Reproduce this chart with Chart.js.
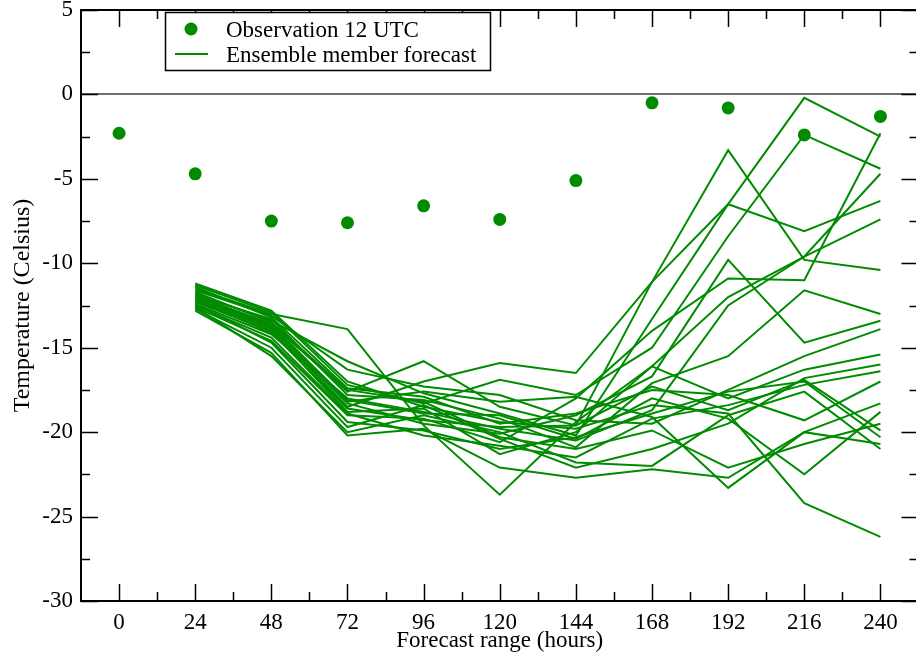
<!DOCTYPE html>
<html>

<head>
    <script src="https://cdn.jsdelivr.net/npm/chart.js@4.4.1/dist/chart.umd.min.js"></script>
    <style>
        body { margin: 0; overflow: hidden; background: #fff; }
    </style>
</head>

<body>
    <canvas id="ens" width="925" height="657"></canvas>

    <script>
        // forecast hours
        const hours = [0, 24, 48, 72, 96, 120, 144, 168, 192, 216, 240]
        const xTicks = [0, 24, 48, 72, 96, 120, 144, 168, 192, 216, 240]
        const yTicks = [-30, -25, -20, -15, -10, -5, 0, 5]

        // observed 12 UTC temperature
        const observed = [-2.3, -4.7, -7.5, -7.6, -6.6, -7.4, -5.1, -0.5, -0.8, -2.4, -1.3]

        // ensemble members, values at 24..240 h
        const members = [
            [-11.5, -13.0, -13.9, -19.6, -23.7, -19.4, -16.1, -12.0, -9.6, -7.4],
            [-11.8, -13.4, -15.8, -17.7, -18.9, -20.2, -13.3, -6.5, -0.2, -2.5],
            [-12.0, -13.6, -17.6, -15.8, -18.5, -19.6, -11.1, -3.3, -9.8, -10.4],
            [-12.2, -13.9, -18.5, -17.0, -15.9, -16.5, -11.1, -6.5, -8.1, -6.3],
            [-11.3, -12.9, -17.2, -18.3, -16.9, -17.8, -15.0, -8.4, -2.4, -4.4],
            [-12.4, -14.2, -18.0, -18.8, -19.8, -20.5, -18.7, -12.5, -9.6, -4.7],
            [-12.6, -14.6, -19.0, -19.2, -20.6, -18.0, -14.0, -10.9, -11.0, -2.3],
            [-11.9, -13.3, -17.8, -18.1, -19.2, -20.9, -17.1, -15.5, -11.6, -13.0],
            [-12.1, -13.8, -18.3, -19.5, -20.1, -19.0, -16.7, -9.8, -14.7, -13.4],
            [-11.6, -13.1, -16.3, -17.3, -17.8, -19.3, -19.5, -17.5, -15.5, -13.9],
            [-12.3, -14.0, -18.8, -18.6, -21.3, -20.0, -16.1, -18.0, -16.3, -15.4],
            [-12.7, -15.0, -19.7, -18.4, -20.4, -22.1, -21.0, -19.5, -16.8, -16.0],
            [-12.5, -14.4, -18.9, -20.2, -20.8, -21.5, -19.2, -18.4, -17.2, -16.4],
            [-11.4, -13.2, -17.4, -17.9, -19.5, -18.9, -17.5, -17.8, -19.3, -17.0],
            [-12.8, -15.3, -20.2, -19.8, -22.1, -22.7, -22.2, -22.7, -20.0, -18.3],
            [-12.0, -13.7, -18.1, -18.9, -19.0, -20.4, -18.0, -19.2, -22.5, -18.8],
            [-11.7, -13.5, -17.5, -18.2, -20.3, -21.0, -19.9, -22.1, -20.7, -19.5],
            [-12.2, -14.1, -18.6, -19.3, -19.7, -19.6, -17.3, -18.7, -16.9, -19.9],
            [-12.4, -14.7, -19.4, -19.9, -21.0, -20.3, -18.9, -17.6, -17.0, -20.3],
            [-11.9, -13.6, -18.2, -17.6, -18.2, -17.9, -19.1, -23.3, -20.0, -20.7],
            [-12.6, -15.5, -20.0, -19.0, -20.0, -21.8, -22.0, -19.0, -17.6, -21.0],
            [-11.2, -12.8, -17.0, -18.5, -19.4, -19.8, -18.4, -18.9, -24.2, -26.2]
        ]

        const green = 'rgb(0,139,0)'
        const serif = '"Liberation Serif", "DejaVu Serif", serif'

        const datasets = [{
            label: 'Observation 12 UTC',
            data: hours.map((h, i) => ({ x: h, y: observed[i] })),
            showLine: false,
            pointRadius: 6.5,
            pointBackgroundColor: green,
            pointBorderWidth: 0,
            order: 0
        }]
        for (const m of members) {
            datasets.push({
                label: 'Ensemble member forecast',
                data: m.map((v, i) => ({ x: hours[i + 1], y: v })),
                borderColor: green,
                borderWidth: 2,
                pointRadius: 0,
                tension: 0,
                order: 1
            })
        }

        // inward ticks on all four sides, frame and legend box
        const frame = {
            id: 'frame',
            afterDraw(chart) {
                const ctx = chart.ctx
                const a = chart.chartArea
                const xs = chart.scales.x, ys = chart.scales.y
                ctx.save()
                ctx.strokeStyle = '#000'
                ctx.lineWidth = 1.5
                ctx.beginPath()
                for (let v = 0; v <= 252; v += 12) {
                    const px = Math.round(xs.getPixelForValue(v)) + 0.5
                    const len = v % 24 === 0 ? 17 : 9
                    ctx.moveTo(px, a.bottom); ctx.lineTo(px, a.bottom - len)
                    ctx.moveTo(px, a.top); ctx.lineTo(px, a.top + len)
                }
                for (let v = -30; v <= 5; v += 2.5) {
                    const py = Math.round(ys.getPixelForValue(v)) + 0.5
                    const len = v % 5 === 0 ? 17 : 9
                    ctx.moveTo(a.left, py); ctx.lineTo(a.left + len, py)
                    ctx.moveTo(a.right, py); ctx.lineTo(a.right - len, py)
                }
                ctx.stroke()
                ctx.lineWidth = 2
                ctx.strokeRect(a.left, a.top, a.right - a.left, a.bottom - a.top)

                // legend
                ctx.fillStyle = '#fff'
                ctx.fillRect(165, 12, 325, 58)
                ctx.lineWidth = 1.5
                ctx.strokeRect(165.5, 12.5, 325, 58)
                ctx.fillStyle = green
                ctx.beginPath()
                ctx.arc(191, 29, 6.5, 0, Math.PI * 2)
                ctx.fill()
                ctx.strokeStyle = green
                ctx.lineWidth = 2
                ctx.beginPath()
                ctx.moveTo(175, 54); ctx.lineTo(208, 54)
                ctx.stroke()
                ctx.fillStyle = '#000'
                ctx.font = '23px ' + serif
                ctx.textBaseline = 'alphabetic'
                ctx.fillText(datasets[0].label, 226, 37)
                ctx.fillText(datasets[1].label, 226, 62)
                ctx.restore()
            }
        }

        new Chart(document.getElementById('ens'), {
            type: 'line',
            data: { datasets: datasets },
            options: {
                responsive: false,
                animation: false,
                layout: { padding: { top: 10, right: 2, left: 0, bottom: 0 } },
                plugins: { legend: { display: false }, tooltip: { enabled: false } },
                scales: {
                    x: {
                        type: 'linear',
                        min: -12,
                        max: 252,
                        afterBuildTicks: s => { s.ticks = xTicks.map(v => ({ value: v })) },
                        afterFit: s => { s.height = 56; s.paddingLeft = 0; s.paddingRight = 0 },
                        grid: { display: false, drawTicks: false },
                        border: { display: false },
                        ticks: { color: '#000', padding: 8, font: { family: serif, size: 23 } },
                        title: {
                            display: true, text: 'Forecast range (hours)', color: '#000',
                            padding: { top: 0, bottom: 2 }, font: { family: serif, size: 23 }
                        }
                    },
                    y: {
                        min: -30,
                        max: 5,
                        afterBuildTicks: s => { s.ticks = yTicks.map(v => ({ value: v })) },
                        afterFit: s => { s.width = 81; s.paddingTop = 0; s.paddingBottom = 0 },
                        grid: {
                            drawTicks: false,
                            lineWidth: 2,
                            color: c => c.tick && c.tick.value === 0 ? '#6e6e6e' : 'rgba(0,0,0,0)'
                        },
                        border: { display: false },
                        ticks: { color: '#000', padding: 8, font: { family: serif, size: 23 } },
                        title: {
                            display: true, text: 'Temperature (Celsius)', color: '#000',
                            padding: { top: 8, bottom: 0 }, font: { family: serif, size: 24 }
                        }
                    }
                }
            },
            plugins: [frame]
        })
    </script>

</body>

</html>
